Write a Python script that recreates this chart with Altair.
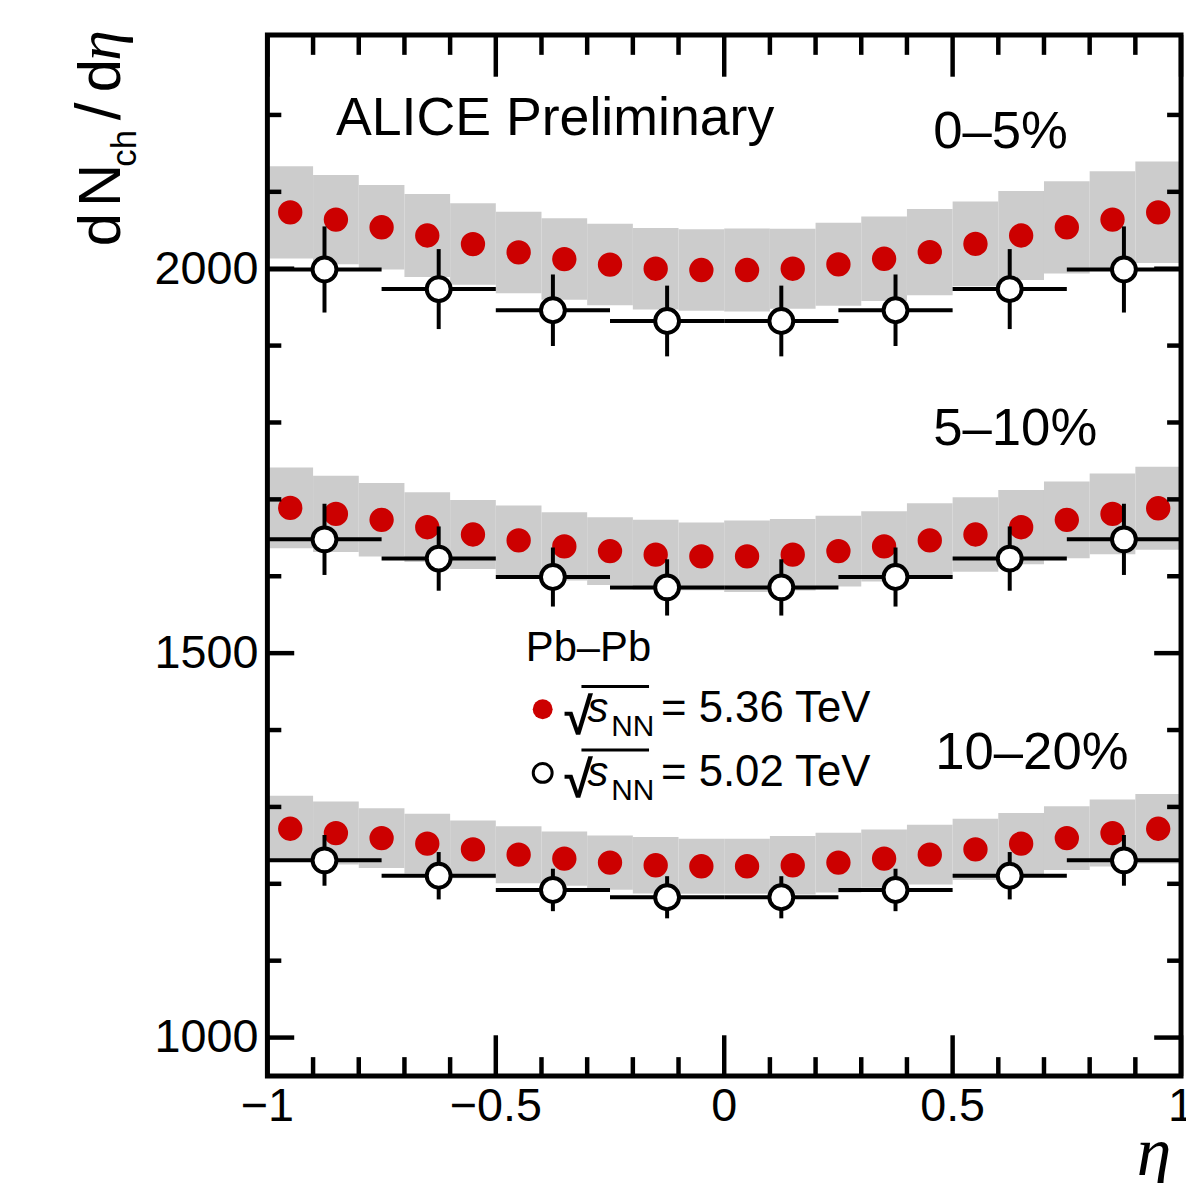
import altair as alt
import pandas as pd

# ---------------- data ----------------
eta_536 = [-0.95, -0.85, -0.75, -0.65, -0.55, -0.45, -0.35, -0.25, -0.15, -0.05,
           0.05, 0.15, 0.25, 0.35, 0.45, 0.55, 0.65, 0.75, 0.85, 0.95]
half_bin_536 = 0.05

dn536_c0 = [2073.3, 2063.9, 2053.9, 2043.2, 2032.0, 2021.2, 2012.5, 2005.4, 2000.0, 1998.3,
            1998.3, 2000.0, 2005.7, 2012.9, 2021.6, 2032.3, 2043.2, 2053.9, 2063.9, 2073.3]
sys536_c0 = [60, 58, 55, 54, 53, 53, 53, 53, 53, 53,
             54, 52, 54, 55, 56, 55, 58, 60, 63, 66]

dn536_c1 = [1688.9, 1681.1, 1673.4, 1663.8, 1654.3, 1646.6, 1638.8, 1632.7, 1628.1, 1625.9,
            1625.9, 1628.1, 1632.7, 1638.8, 1646.6, 1654.3, 1663.8, 1673.4, 1681.1, 1688.4]
sys536_c1 = [52.5, 49.5, 47.8, 45.3, 44.9, 45.3, 44.4, 44.0, 45.3, 44.0,
             46.5, 46.5, 46.0, 45.7, 48.3, 48.3, 48.3, 50.0, 52.5, 54.0]

dn536_c2 = [1271.6, 1266.0, 1259.5, 1252.2, 1244.8, 1237.9, 1232.7, 1227.6, 1224.1, 1222.8,
            1222.8, 1224.1, 1227.6, 1232.7, 1237.9, 1244.8, 1252.2, 1259.5, 1266.0, 1271.6]
sys536_c2 = [43.0, 40.9, 38.8, 38.8, 37.5, 37.1, 35.3, 35.3, 36.7, 35.8,
             35.8, 38.0, 38.8, 37.9, 38.8, 39.7, 40.0, 41.4, 43.5, 45.3]

eta_502 = [-0.875, -0.625, -0.375, -0.125, 0.125, 0.375, 0.625, 0.875]
half_bin_502 = 0.125
dn502_c0 = [1999.0, 1973.5, 1946.0, 1932.0, 1932.0, 1946.0, 1973.5, 1999.0]
err502_c0 = [56, 52, 46.5, 46, 46, 46.5, 52, 56]
dn502_c1 = [1648.0, 1623.0, 1599.0, 1585.5, 1585.5, 1599.0, 1623.0, 1648.0]
err502_c1 = [46.3, 41.8, 38.4, 36.6, 36.6, 38.4, 41.8, 46.3]
dn502_c2 = [1230.5, 1210.5, 1192.0, 1182.5, 1182.5, 1192.0, 1210.5, 1230.5]
err502_c2 = [33.0, 30.8, 27.6, 27.4, 27.4, 27.6, 30.8, 33.0]

centrality_labels = ["0–5%", "5–10%", "10–20%"]
legend_labels = ["= 5.36 TeV", "= 5.02 TeV"]
system_label = "Pb–Pb"
header_label = "ALICE Preliminary"

x_major = [-1, -0.5, 0, 0.5, 1]
x_major_labels = ["−1", "−0.5", "0", "0.5", "1"]
x_minor = [-0.9, -0.8, -0.7, -0.6, -0.4, -0.3, -0.2, -0.1,
           0.1, 0.2, 0.3, 0.4, 0.6, 0.7, 0.8, 0.9]
y_major = [1000, 1500, 2000]
y_major_labels = ["1000", "1500", "2000"]
y_minor = [1100, 1200, 1300, 1400, 1600, 1700, 1800, 1900, 2100, 2200]

# ---------------- tables ----------------
rows536 = []
for vals, syss in [(dn536_c0, sys536_c0), (dn536_c1, sys536_c1), (dn536_c2, sys536_c2)]:
    for e, v, s in zip(eta_536, vals, syss):
        rows536.append({"eta": e, "x1": e - half_bin_536, "x2": e + half_bin_536,
                        "v": v, "lo": v - s, "hi": v + s})
df536 = pd.DataFrame(rows536)

rows502 = []
for vals, errs in [(dn502_c0, err502_c0), (dn502_c1, err502_c1), (dn502_c2, err502_c2)]:
    for e, v, s in zip(eta_502, vals, errs):
        rows502.append({"eta": e, "x1": e - half_bin_502, "x2": e + half_bin_502,
                        "v": v, "lo": v - s, "hi": v + s})
df502 = pd.DataFrame(rows502)

# ---------------- geometry ----------------
W = 919.3
H = 1047.5
FONT = "Liberation Sans"
SERIF = "Liberation Serif"

xs = alt.Scale(domain=[-1, 1], nice=False, zero=False)
ys = alt.Scale(domain=[950, 2304], nice=False, zero=False)

bands = alt.Chart(df536).mark_rect(color="#cccccc", strokeWidth=0).encode(
    x=alt.X("x1:Q", scale=xs, axis=None), x2="x2:Q",
    y=alt.Y("lo:Q", scale=ys, axis=None), y2="hi:Q")

red = alt.Chart(df536).mark_circle(size=600, color="#cc0000", opacity=1).encode(
    x=alt.X("eta:Q", scale=xs, axis=None), y=alt.Y("v:Q", scale=ys, axis=None))

hbar = alt.Chart(df502).mark_rule(color="black", strokeWidth=4).encode(
    x=alt.X("x1:Q", scale=xs, axis=None), x2="x2:Q",
    y=alt.Y("v:Q", scale=ys, axis=None))
vbar = alt.Chart(df502).mark_rule(color="black", strokeWidth=4).encode(
    x=alt.X("eta:Q", scale=xs, axis=None),
    y=alt.Y("lo:Q", scale=ys, axis=None), y2="hi:Q")
opn = alt.Chart(df502).mark_point(shape="circle", size=576, filled=True, fill="white",
                                  stroke="black", strokeWidth=4, opacity=1).encode(
    x=alt.X("eta:Q", scale=xs, axis=None), y=alt.Y("v:Q", scale=ys, axis=None))


def xticks(vals, y0, y1):
    return alt.Chart(pd.DataFrame({"t": vals})).mark_rule(color="black", strokeWidth=4.5).encode(
        x=alt.X("t:Q", scale=xs, axis=None), y=alt.value(y0), y2=alt.value(y1))


def yticks(vals, x0, x1):
    return alt.Chart(pd.DataFrame({"t": vals})).mark_rule(color="black", strokeWidth=4.5).encode(
        y=alt.Y("t:Q", scale=ys, axis=None), x=alt.value(x0), x2=alt.value(x1))


ticks = [
    xticks(x_major, H, H - 41), xticks(x_minor, H, H - 19),
    xticks(x_major, 0, 42), xticks(x_minor, 0, 20),
    yticks(y_major, 0, 27), yticks(y_minor, 0, 14),
    yticks(y_major, W, W - 27), yticks(y_minor, W, W - 14),
]

x_tick_labels = alt.Chart(pd.DataFrame({"t": x_major, "s": x_major_labels})).mark_text(
    font=FONT, fontSize=47, align="center", baseline="alphabetic", color="black").encode(
    x=alt.X("t:Q", scale=xs, axis=None), y=alt.value(1092.5), text="s:N")
y_tick_labels = alt.Chart(pd.DataFrame({"t": y_major, "s": y_major_labels})).mark_text(
    font=FONT, fontSize=47, align="right", baseline="alphabetic", color="black", dy=15).encode(
    y=alt.Y("t:Q", scale=ys, axis=None), x=alt.value(-9), text="s:N")

frame = alt.Chart(pd.DataFrame({"f": [0]})).mark_rect(
    fillOpacity=0, stroke="black", strokeWidth=5).encode(
    x=alt.value(0), x2=alt.value(W), y=alt.value(0), y2=alt.value(H))


def label(text, x, y, size, font=FONT, style="normal", weight="normal", angle=0,
          align="left", baseline="alphabetic"):
    return alt.Chart(pd.DataFrame({"t": [text]})).mark_text(
        font=font, fontSize=size, fontStyle=style, fontWeight=weight, angle=angle,
        align=align, baseline=baseline, color="black").encode(
        x=alt.value(x), y=alt.value(y), text="t:N")


def overline(x0, x1, y):
    return alt.Chart(pd.DataFrame({"o": [0]})).mark_rule(color="black", strokeWidth=3).encode(
        x=alt.value(x0), x2=alt.value(x1), y=alt.value(y))


texts = [
    label(header_label, 69, 100.5, 54),
    label(centrality_labels[0], 670, 114, 53),
    label(centrality_labels[1], 670, 413, 53),
    label(centrality_labels[2], 672, 738.5, 53),
    label(system_label, 260, 630, 42),
]

legend_layers = []
for i, lab in enumerate(legend_labels):
    dy = 64 * i
    legend_layers += [
        label("√", 299, 703 + dy, 52, weight="bold"),
        label("s", 322, 691.5 + dy, 42, style="italic"),
        label("NN", 346, 705.5 + dy, 30),
        overline(316, 384, 655.5 + dy),
        label(lab, 396, 691.5 + dy, 44),
    ]

leg_red = alt.Chart(pd.DataFrame({"m": [legend_labels[0]]})).mark_circle(
    size=400, color="#cc0000", opacity=1).encode(x=alt.value(277), y=alt.value(678.5))
leg_open = alt.Chart(pd.DataFrame({"m": [legend_labels[1]]})).mark_point(
    shape="circle", size=361, filled=True, fill="white", stroke="black",
    strokeWidth=3, opacity=1).encode(x=alt.value(277), y=alt.value(742.5))

# y-axis title glyphs, rotated, placed one by one
titles = [
    label("d", -148, 196, 60, angle=270, align="center"),
    label("N", -148, 151.5, 60, angle=270, align="center"),
    label("ch", -132, 114, 35, angle=270, align="center"),
    label("/", -148, 77, 64, angle=270, align="center"),
    label("d", -148, 41, 60, angle=270, align="center"),
    label("η", -148, 10.5, 62, font=SERIF, style="italic", angle=270, align="center"),
    label("η", 892, 1147, 70, font=SERIF, style="italic", align="center"),
]

chart = alt.layer(
    bands, red, hbar, vbar, opn, *ticks, frame, x_tick_labels, y_tick_labels,
    *texts, *legend_layers, leg_red, leg_open, *titles
).properties(
    width=W, height=H,
    padding={"left": 261, "top": 23.5, "right": 5, "bottom": 104},
    autosize=alt.AutoSizeParams(type="none"),
).configure_view(strokeWidth=0)

chart.save("out.html", embed_options={"renderer": "svg", "actions": False})
